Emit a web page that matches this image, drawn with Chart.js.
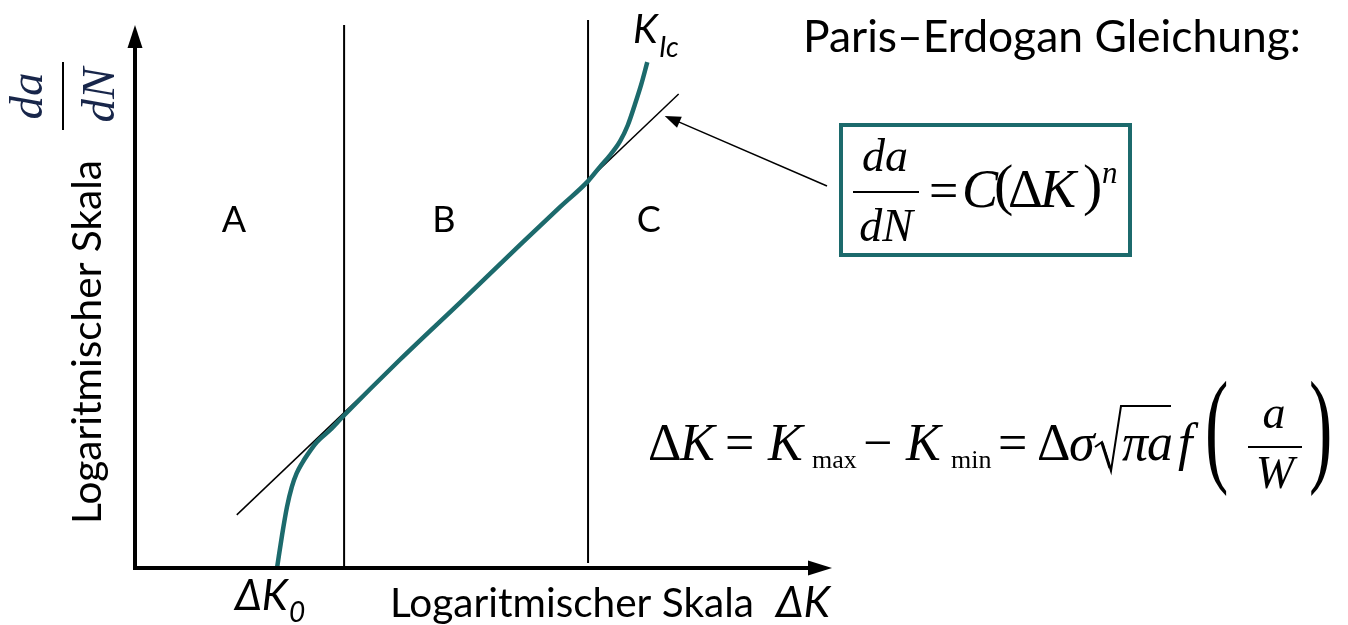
<!DOCTYPE html>
<html>
<head>
<meta charset="utf-8">
<script src="https://cdn.jsdelivr.net/npm/chart.js@4.4.1/dist/chart.umd.min.js"></script>
<style>
  html, body { margin: 0; padding: 0; background: #ffffff; }
  canvas { display: block; }
</style>
</head>
<body>
<canvas id="c" width="1348" height="625"></canvas>
<script>
// Schematic crack growth curve: log ΔK (horizontal) against log da/dN (vertical), both in arbitrary decades
const curveX = [2.04, 2.11, 2.18, 2.25, 2.32, 2.40, 2.47, 2.61, 2.80, 2.98, 3.80, 4.66, 5.52, 6.10, 6.50, 6.67, 6.82, 6.96, 7.07, 7.17, 7.26, 7.35];
const curveY = [0.02, 0.60, 1.11, 1.48, 1.73, 1.92, 2.06, 2.30, 2.52, 2.76, 3.80, 4.84, 5.89, 6.59, 7.06, 7.32, 7.54, 7.79, 8.08, 8.45, 8.81, 9.23];

// Paris law straight line (stage B asymptote)
const parisX = [1.46, 7.80];
const parisY = [0.97, 8.65];

// Boundaries between the stages A | B | C
const stageBoundX = [3.0, 6.5];
const stageBoundTop = [9.91, 10.0];
const stageBoundBottom = [0.0, 0.09];

// Stage names and where they sit
const stageNames = ['A', 'B', 'C'];
const stageNameX = [1.42, 4.43, 7.37];
const stageNameY = 6.35;

// Point on the Paris line that the call-out arrow points at
const calloutX = 7.60;
const calloutY = 8.25;

const TEAL = '#1c6a6c';
const NAVY = '#18264a';
const SANS = 'Lato, "Open Sans", "DejaVu Sans", sans-serif';
const SERIF = '"Liberation Serif", "DejaVu Serif", serif';

const toPts = (xs, ys) => xs.map((x, i) => ({ x: x, y: ys[i] }));

const datasets = [
  {
    label: 'da/dN',
    data: toPts(curveX, curveY),
    borderColor: TEAL,
    borderWidth: 4.5,
    cubicInterpolationMode: 'monotone',
    borderCapStyle: 'butt',
    clip: false
  },
  {
    label: 'Paris',
    data: toPts(parisX, parisY),
    borderColor: '#000000',
    borderWidth: 1.5,
    clip: false
  }
];
stageBoundX.forEach((bx, i) => {
  datasets.push({
    label: 'Grenze ' + (i + 1),
    data: [{ x: bx, y: stageBoundBottom[i] }, { x: bx, y: stageBoundTop[i] }],
    borderColor: '#000000',
    borderWidth: 2,
    clip: false
  });
});
datasets.forEach(d => {
  d.showLine = true;
  d.pointRadius = 0;
  d.pointHoverRadius = 0;
  d.fill = false;
});

function fitSize(ctx, s, width, family, style) {
  ctx.font = style + ' 100px ' + family;
  return 100 * width / ctx.measureText(s).width;
}

function put(ctx, s, x, y, size, family, style, align) {
  ctx.font = (style || 'normal') + ' ' + size + 'px ' + family;
  ctx.textAlign = align || 'left';
  ctx.fillText(s, x, y);
}

function hline(ctx, x1, x2, y, w) {
  ctx.beginPath();
  ctx.lineWidth = w;
  ctx.moveTo(x1, y);
  ctx.lineTo(x2, y);
  ctx.stroke();
}

function tallParen(ctx, s, x, bottom, scaleX, scaleY) {
  ctx.save();
  ctx.font = 'normal 52px ' + SERIF;
  ctx.textAlign = 'left';
  ctx.translate(x, bottom - 0.18 * 52 * scaleY);
  ctx.scale(scaleX, scaleY);
  ctx.fillText(s, 0, 0);
  ctx.restore();
}

const diagramPlugin = {
  id: 'diagram',
  afterDatasetsDraw(chart) {
    const ctx = chart.ctx;
    const xs = chart.scales.x, ys = chart.scales.y;
    const area = chart.chartArea;
    ctx.save();
    ctx.fillStyle = '#000';
    ctx.strokeStyle = '#000';
    ctx.textBaseline = 'alphabetic';

    // axes with arrow heads
    const ox = xs.getPixelForValue(0), oy = ys.getPixelForValue(0);
    ctx.lineWidth = 4;
    ctx.beginPath();
    ctx.moveTo(ox - 2, oy);
    ctx.lineTo(area.right - 22, oy);
    ctx.moveTo(ox, oy + 2);
    ctx.lineTo(ox, ys.getPixelForValue(9.91) + 20);
    ctx.stroke();
    ctx.beginPath();
    ctx.moveTo(area.right, oy);
    ctx.lineTo(area.right - 24, oy - 7.5);
    ctx.lineTo(area.right - 24, oy + 7.5);
    ctx.closePath();
    ctx.fill();
    const ty = ys.getPixelForValue(9.91);
    ctx.beginPath();
    ctx.moveTo(ox, ty);
    ctx.lineTo(ox - 7.5, ty + 23);
    ctx.lineTo(ox + 7.5, ty + 23);
    ctx.closePath();
    ctx.fill();

    // stage names
    ctx.textBaseline = 'middle';
    stageNames.forEach((n, i) => {
      put(ctx, n, xs.getPixelForValue(stageNameX[i]), ys.getPixelForValue(stageNameY), 36, SANS, 'normal', 'center');
    });
    ctx.textBaseline = 'alphabetic';

    // K_Ic at the end of the curve
    put(ctx, 'K', 633, 43, 40, SANS, 'italic');
    put(ctx, 'Ic', 659, 57, 28, SANS, 'italic');

    // title
    const title = 'Paris–Erdogan Gleichung:';
    put(ctx, title, 803, 52, fitSize(ctx, title, 498, SANS, 'normal'), SANS, 'normal');

    // axis titles
    const axisText = 'Logaritmischer Skala';
    const axisSize = fitSize(ctx, axisText, 364, SANS, 'normal');
    put(ctx, axisText, 390, 617, axisSize, SANS, 'normal');
    put(ctx, 'ΔK', 776, 617, 43, SANS, 'italic');
    put(ctx, 'ΔK', 235, 610, 42, SANS, 'italic');
    put(ctx, '0', 289, 622, 28, SANS, 'italic');

    ctx.save();
    ctx.translate(101, 342);
    ctx.rotate(-Math.PI / 2);
    put(ctx, axisText, 0, 0, axisSize, SANS, 'normal', 'center');
    ctx.restore();

    // rotated da/dN
    ctx.save();
    ctx.translate(63, 96);
    ctx.rotate(-Math.PI / 2);
    ctx.fillStyle = NAVY;
    ctx.strokeStyle = '#000';
    put(ctx, 'da', 0, -21, 47, SERIF, 'italic', 'center');
    put(ctx, 'dN', 1, 51, 47, SERIF, 'italic', 'center');
    hline(ctx, -34, 34, 0, 2);
    ctx.restore();

    // call-out arrow towards the Paris line
    const tipX = xs.getPixelForValue(calloutX), tipY = ys.getPixelForValue(calloutY);
    const tailX = 827, tailY = 186;
    const ang = Math.atan2(tipY - tailY, tipX - tailX);
    ctx.lineWidth = 1.5;
    ctx.beginPath();
    ctx.moveTo(tailX, tailY);
    ctx.lineTo(tipX - 12 * Math.cos(ang), tipY - 12 * Math.sin(ang));
    ctx.stroke();
    ctx.beginPath();
    ctx.moveTo(tipX, tipY);
    ctx.lineTo(tipX - 16 * Math.cos(ang) + 6 * Math.sin(ang), tipY - 16 * Math.sin(ang) - 6 * Math.cos(ang));
    ctx.lineTo(tipX - 16 * Math.cos(ang) - 6 * Math.sin(ang), tipY - 16 * Math.sin(ang) + 6 * Math.cos(ang));
    ctx.closePath();
    ctx.fill();

    // framed Paris law
    ctx.strokeStyle = TEAL;
    ctx.lineWidth = 4;
    ctx.strokeRect(841, 125, 289, 130);
    ctx.strokeStyle = '#000';
    put(ctx, 'da', 885, 171, 46, SERIF, 'italic', 'center');
    hline(ctx, 853, 919, 192, 2);
    put(ctx, 'dN', 886, 241, 46, SERIF, 'italic', 'center');
    put(ctx, '=', 929, 208, 52, SERIF, 'normal');
    put(ctx, 'C', 962, 207, 54, SERIF, 'italic');
    put(ctx, '(', 994, 204, 58, SERIF, 'normal');
    put(ctx, 'Δ', 1008, 207, 54, SERIF, 'normal');
    put(ctx, 'K', 1040, 207, 54, SERIF, 'italic');
    put(ctx, ')', 1083, 204, 58, SERIF, 'normal');
    put(ctx, 'n', 1102, 183, 31, SERIF, 'italic');

    // stress intensity range
    const B = 460;
    const S = 52;
    put(ctx, 'Δ', 648, B, S, SERIF, 'normal');
    put(ctx, 'K', 680, B, S, SERIF, 'italic');
    put(ctx, '=', 725, B, S, SERIF, 'normal');
    put(ctx, 'K', 768, B, S, SERIF, 'italic');
    put(ctx, 'max', 812, 468, 26, SERIF, 'normal');
    put(ctx, '−', 863, B, S, SERIF, 'normal');
    put(ctx, 'K', 906, B, S, SERIF, 'italic');
    put(ctx, 'min', 951, 468, 26, SERIF, 'normal');
    put(ctx, '=', 998, B, S, SERIF, 'normal');
    put(ctx, 'Δ', 1037, B, S, SERIF, 'normal');
    put(ctx, 'σ', 1069, B, S, SERIF, 'italic');
    ctx.lineJoin = 'miter';
    ctx.lineWidth = 2;
    ctx.beginPath();
    ctx.moveTo(1095, 447);
    ctx.lineTo(1102, 442);
    ctx.lineTo(1111, 471);
    ctx.lineTo(1121, 406);
    ctx.lineTo(1171, 406);
    ctx.stroke();
    ctx.lineWidth = 3;
    ctx.beginPath();
    ctx.moveTo(1102, 443);
    ctx.lineTo(1110, 468);
    ctx.stroke();
    put(ctx, 'π', 1122, B, S, SERIF, 'italic');
    put(ctx, 'a', 1147, B, S, SERIF, 'italic');
    put(ctx, 'f', 1178, B, S, SERIF, 'italic');
    tallParen(ctx, '(', 1205, 492, 1.35, 2.45);
    put(ctx, 'a', 1274, 428, 46, SERIF, 'italic', 'center');
    hline(ctx, 1248, 1302, 447, 2);
    put(ctx, 'W', 1275, 488, 46, SERIF, 'italic', 'center');
    tallParen(ctx, ')', 1309, 492, 1.35, 2.45);

    ctx.restore();
  }
};

new Chart(document.getElementById('c'), {
  type: 'scatter',
  data: { datasets: datasets },
  options: {
    responsive: false,
    animation: false,
    events: [],
    layout: { padding: { left: 135, top: 20, right: 516, bottom: 57 } },
    plugins: { legend: { display: false }, tooltip: { enabled: false } },
    scales: {
      x: { type: 'linear', min: 0, max: 10, display: false },
      y: { type: 'linear', min: 0, max: 10, display: false }
    }
  },
  plugins: [diagramPlugin]
});
</script>
</body>
</html>
